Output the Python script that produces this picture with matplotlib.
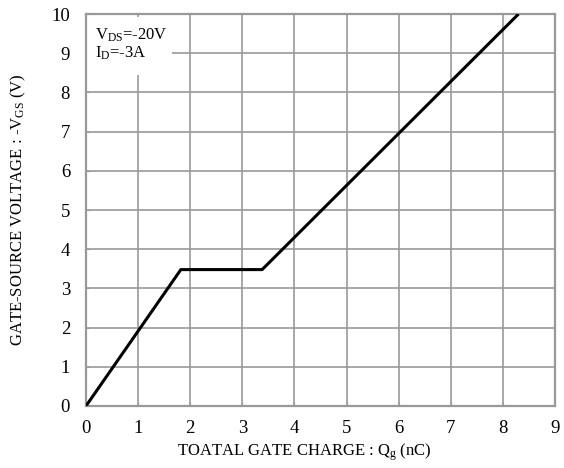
import matplotlib
matplotlib.use("Agg")
import matplotlib.pyplot as plt
from matplotlib.patches import Rectangle

qg = [0.0, 1.82, 3.38, 8.3]
vgs = [0.0, 3.48, 3.48, 10.0]
xticks = [0, 1, 2, 3, 4, 5, 6, 7, 8, 9]
yticks = [0, 1, 2, 3, 4, 5, 6, 7, 8, 9, 10]

plt.rcParams['font.family'] = ['Liberation Serif', 'DejaVu Serif']
plt.rcParams['mathtext.fontset'] = 'custom'
plt.rcParams['mathtext.rm'] = 'Liberation Serif'
plt.rcParams['mathtext.it'] = 'Liberation Serif'

fig = plt.figure(figsize=(5.64, 4.68), dpi=100)
ax = fig.add_axes([0.1525, 0.1325, 0.8315, 0.8375])
ax.set_xlim(0, 9)
ax.set_ylim(0, 10)
ax.set_xticks(xticks)
ax.set_yticks(yticks)
ax.grid(True, color='#999999', linewidth=1.2)
ax.set_axisbelow(True)
for s in ax.spines.values():
    s.set_color('#999999')
    s.set_linewidth(1.6)
ax.tick_params(direction='in', length=3, color='#999999', labelsize=13.5)
ax.tick_params(axis='y', pad=11.5)
ax.tick_params(axis='x', pad=10)

ax.plot(qg, vgs, color='black', linewidth=2.2, solid_capstyle='butt', zorder=3)

ax.add_patch(Rectangle((0.02, 8.44), 1.63, 1.48, facecolor='white', edgecolor='none', zorder=1))
ax.text(0.17, 9.45, r'V$_{\rm DS}$=-20V', fontsize=12, va='center', ha='left', zorder=4)
ax.text(0.17, 9.0, r'I$_{\rm D}$=-3A', fontsize=12, va='center', ha='left', zorder=4)

ax.set_xlabel(r'TOATAL GATE CHARGE : Q$_{\rm g}$ (nC)', fontsize=12)
ax.set_ylabel(r'GATE-SOURCE VOLTAGE : -V$_{\rm GS}$ (V)', fontsize=12)
ax.xaxis.set_label_coords(0.465, -0.118)
ax.yaxis.set_label_coords(-0.145, 0.5)
ax.xaxis.label.set_va('center')
ax.yaxis.label.set_va('center')

fig.savefig('out.png', dpi=100)
